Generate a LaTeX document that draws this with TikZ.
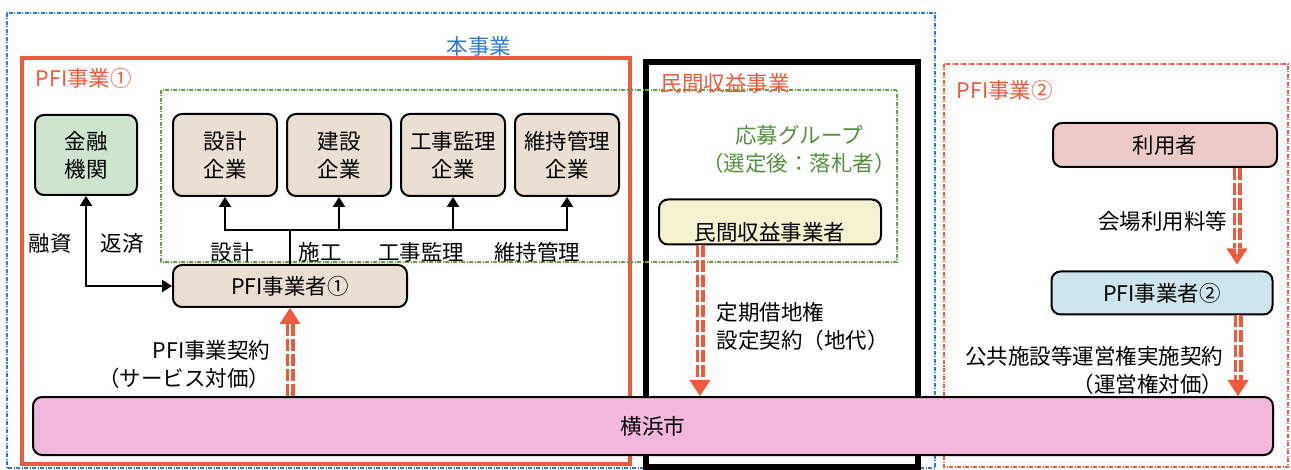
\documentclass[tikz,border=0pt]{standalone}
\usepackage{fontspec}
\setmainfont{Noto Sans CJK JP}
\usetikzlibrary{arrows.meta, positioning}

\definecolor{honblue}{HTML}{2F7AD2}
\definecolor{pfired}{HTML}{F05A3C}
\definecolor{grpgreen}{HTML}{5FA046}
\definecolor{beige}{HTML}{E9DFD3}
\definecolor{finfill}{HTML}{CFE4CF}
\definecolor{minfill}{HTML}{F5F3CF}
\definecolor{riyfill}{HTML}{ECCACA}
\definecolor{pfifill}{HTML}{CFE5EC}
\definecolor{yokfill}{HTML}{F2B8DC}

\begin{document}
\begin{tikzpicture}[x=1pt, y=-1pt, font=\fontsize{21.5}{28}\selectfont]
	\tikzset{box/.style={draw, line width=2pt, rounded corners=9pt, align=center, inner sep=3pt},
		cobox/.style={box, fill=beige, minimum width=104pt, minimum height=82pt},
		conn/.style={draw, line width=2.5pt, -{Triangle[length=10pt, width=12pt]}},
		flow/.style={draw=pfired, line width=9pt, dash pattern=on 12pt off 3pt,
			-{Triangle[length=16pt, width=21pt, line width=0pt]},
			postaction={draw=white, line width=2.5pt, -, shorten >=16pt}},
		frame/.style={line width=2pt, dash pattern=on 4pt off 1.5pt on 1pt off 1.5pt}}
	
	\fill[white] (0,0) rectangle (1291,470);
	\useasboundingbox (0,0) rectangle (1291,470);
	
	% frames
	\draw[frame, draw=honblue] (7,13) rectangle (935,468);
	\draw[draw=pfired, line width=3.5pt] (22,58) rectangle (630,464);
	\draw[line width=6.5pt] (646,62) rectangle (918,467);
	\draw[frame, draw=grpgreen] (161,90) rectangle (897,262);
	\draw[frame, draw=pfired] (944,64) rectangle (1288,467);
	
	\node[text=honblue] (hon) at (479,46) {本事業};
	\node[text=pfired, anchor=west] (t1) at (32,78) {PFI事業①};
	\node[text=pfired, anchor=west] (t2) at (657,83) {民間収益事業};
	\node[text=pfired, anchor=west] (t3) at (953,90) {PFI事業②};
	\node[text=grpgreen!90!black, align=center] (grp) at (799,150) {応募グループ\\（選定後：落札者）};
	
	% nodes
	\node[box, fill=finfill, minimum width=102pt, minimum height=80pt] (kin) at (86,155) {金融\\機関};
	\node[cobox] (sek) at (225,155) {設計\\企業};
	\node[cobox, right=8pt of sek] (ken) {建設\\企業};
	\node[cobox, right=8pt of ken] (kan) {工事監理\\企業};
	\node[cobox, right=8pt of kan] (iji) {維持管理\\企業};
	\node[box, fill=beige, minimum width=234pt, minimum height=42pt] (pfi1) at (290,286) {PFI事業者①};
	\node[box, fill=minfill, minimum width=222pt, minimum height=45pt] (min) at (770,222) {\raisebox{-19pt}[0pt][0pt]{民間収益事業者}};
	\node[box, fill=riyfill, minimum width=224pt, minimum height=44pt] (riy) at (1165,145) {利用者};
	\node[box, fill=pfifill, minimum width=221pt, minimum height=43pt] (pfi2) at (1162,293) {PFI事業者②};
	\node[box, fill=yokfill, minimum width=1240pt, minimum height=58pt] (yok) at (653,426) {横浜市};
	
	% black connectors
	\coordinate (t) at (290,230);
	\draw[line width=2.5pt] (pfi1.north) -- (t);
	\draw[conn] (t) -| (sek);
	\draw[conn] (t) -| (ken);
	\draw[conn] (t) -| (kan);
	\draw[conn] (t) -| (iji);
	\draw[conn, {Triangle[length=10pt, width=12pt]}-{Triangle[length=10pt, width=12pt]}] (kin.south) |- (pfi1.west);
	
	\node (l1) at (50,243) {融資};
	\node (l2) at (122,243) {返済};
	\node (l3) at (232,252) {設計};
	\node (l4) at (320,252) {施工};
	\node (l5) at (421,252) {工事監理};
	\node (l6) at (537,252) {維持管理};
	
	% red flows
	\draw[flow] (yok.north -| pfi1.south) -- (pfi1.south);
	\draw[flow] ([xshift=-70pt]min.south) -- ([xshift=-70pt]min.south |- yok.north);
	\draw[flow, shorten >=6pt] ([xshift=72pt]riy.south) -- ([xshift=72pt]riy.south |- pfi2.north);
	\draw[flow] ([xshift=76pt]pfi2.south) -- ([xshift=76pt]pfi2.south |- yok.north);
	
	\node[anchor=east, align=right] (c1) at (274,364) {PFI事業契約\\（サービス対価）};
	\node[anchor=west, align=left] (c2) at (713,326) {定期借地権\\設定契約（地代）};
	\node[anchor=east] (c3) at (1231,221) {会場利用料等};
	\node[anchor=east, align=right] (c4) at (1227,370) {公共施設等運営権実施契約\\（運営権対価）};
\end{tikzpicture}
\end{document}
